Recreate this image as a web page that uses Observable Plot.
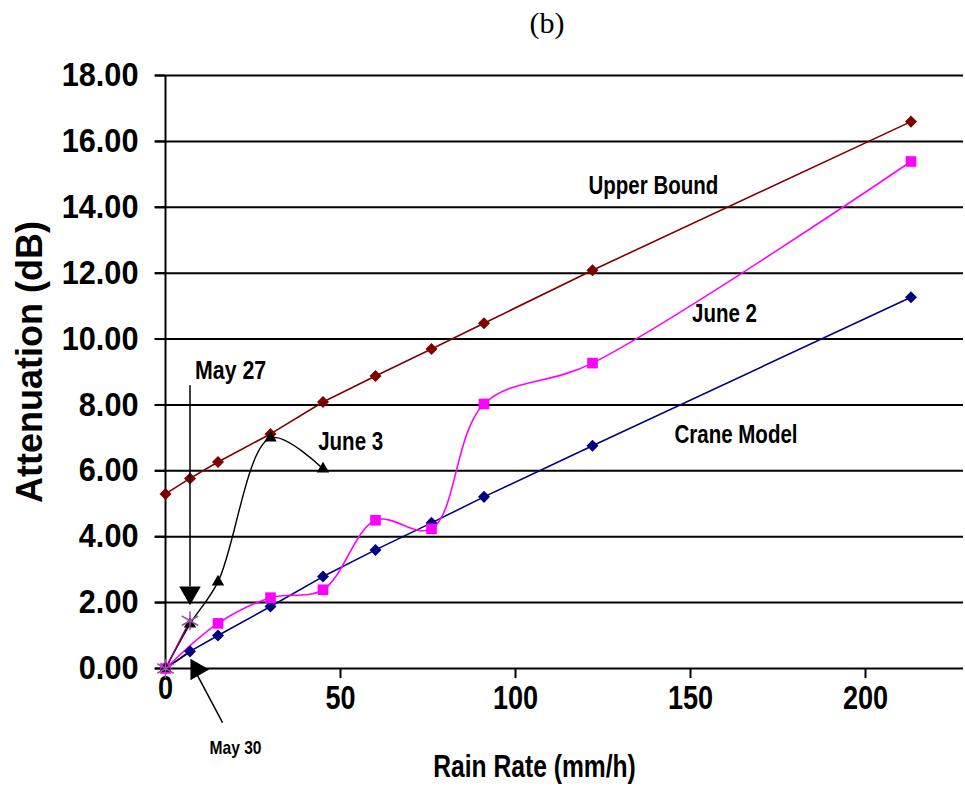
<!DOCTYPE html>
<html>
<head>
<meta charset="utf-8">
<script src="https://cdn.jsdelivr.net/npm/d3@7"></script>
<script src="https://cdn.jsdelivr.net/npm/@observablehq/plot@0.6"></script>
<style>
  html, body { margin: 0; padding: 0; background: #fff; }
  #wrap { position: relative; width: 965px; height: 802px; }
  #title { position: absolute; left: 0; top: 6px; width: 1094px; text-align: center;
    font-family: "Liberation Serif", "DejaVu Serif", serif; font-size: 30px; color: #000; }
  #chart { position: absolute; left: 0; top: 50px; }
  g[aria-label="y-axis tick label"] text { font-family: "Liberation Sans", Arial, sans-serif; font-weight: bold; font-size: 33px; }
  g[aria-label="x-axis tick label"] text { font-family: "Liberation Sans", Arial, sans-serif; font-weight: bold; font-size: 33px; }
</style>
</head>
<body>
<div id="wrap">
  <div id="title">(b)</div>
  <div id="chart"></div>
</div>
<script>
// ---- data ----
const upperX = [0, 7, 15, 30, 45, 60, 76, 91, 122, 213];
const upperY = [5.3, 5.77, 6.27, 7.12, 8.09, 8.88, 9.7, 10.48, 12.09, 16.6];
const craneX = [0, 7, 15, 30, 45, 60, 76, 91, 122, 213];
const craneY = [0, 0.52, 1.0, 1.88, 2.79, 3.6, 4.42, 5.21, 6.76, 11.27];
const june2X = [0, 15, 30, 45, 60, 76, 91, 122, 213];
const june2Y = [0, 1.37, 2.15, 2.39, 4.5, 4.24, 8.03, 9.27, 15.39];
const june3X = [0, 7, 15, 30, 45];
const june3Y = [0, 1.35, 2.63, 7.0, 6.06];
const may27X = [0, 7];
const may27Y = [0, 1.45];
const may30X = [0, 7];
const may30Y = [0, 0.5];

const yTicks = [0, 2, 4, 6, 8, 10, 12, 14, 16, 18];
const xTicks = [0, 50, 100, 150, 200];

// annotation labels
const labelText = ["Upper Bound", "June 2", "Crane Model", "June 3", "May 27", "May 30"];
const labelX = [139.4, 159.7, 163, 52.9, 18.6, 20];
const labelY = [14.64, 10.76, 7.09, 6.88, 9.03, -2.42];
const labelSize = [25, 25, 25, 25, 26, 19];

// annotation arrows (from -> to, head position)
const arrowX1 = [7, 16.3];
const arrowY1 = [8.6, -1.64];
const arrowX2 = [7, 8.6];
const arrowY2 = [2.5, -0.1];
const headX = [7, 8.9];
const headY = [2.3, -0.03];
const headRot = [180, 90];

const xTitle = "Rain Rate (mm/h)";
const yTitle = "Attenuation (dB)";

const zip = (xs, ys) => xs.map((x, i) => ({x, y: ys[i]}));
const upper = zip(upperX, upperY);
const crane = zip(craneX, craneY);
const june2 = zip(june2X, june2Y);
const june3 = zip(june3X, june3Y);
const may27 = zip(may27X, may27Y);
const may30 = zip(may30X, may30Y);
const labels = labelText.map((t, i) => ({t, x: labelX[i], y: labelY[i], s: labelSize[i]}));
const arrows = arrowX1.map((x1, i) => ({x1, y1: arrowY1[i], x2: arrowX2[i], y2: arrowY2[i]}));
const heads = headX.map((x, i) => ({x, y: headY[i], r: headRot[i]}));

const narrow = "'Liberation Sans', 'Arial Narrow', sans-serif";
const narrow2 = "'Liberation Sans', 'Arial Narrow Title', sans-serif";
const plain = "'Liberation Sans', Arial, sans-serif";

const chart = Plot.plot({
  width: 965,
  height: 752,
  marginTop: 25,
  marginBottom: 134,
  marginLeft: 165,
  marginRight: 2,
  x: {domain: [0, 228], ticks: xTicks},
  y: {domain: [0, 18], ticks: yTicks},
  style: {background: "white", color: "black", overflow: "visible"},
  marks: [
    Plot.ruleY(yTicks.filter(d => d > 0), {x1: -3, x2: 228, stroke: "#000", strokeWidth: 2}),
    Plot.axisY({ticks: yTicks, tickFormat: d3.format(".2f"), tickSize: 10, tickPadding: 17, strokeWidth: 2, label: null}),
    Plot.axisX({ticks: xTicks.filter(d => d > 0), tickSize: 10, tickPadding: 7, strokeWidth: 2, label: null}),
    Plot.text([xTicks[0]], {x: d => d, frameAnchor: "bottom", dy: 30, text: d => String(d),
      fontFamily: narrow, fontWeight: "bold", fontSize: 33}),
    Plot.ruleY([0], {x1: -3, x2: 228, stroke: "#000", strokeWidth: 2}),
    Plot.ruleX([0], {y1: 0, y2: 18, stroke: "#000", strokeWidth: 2}),
    // series lines
    Plot.line(upper, {x: "x", y: "y", stroke: "#800000", strokeWidth: 1.6}),
    Plot.line(crane, {x: "x", y: "y", stroke: "#000080", strokeWidth: 1.6}),
    Plot.line(june2, {x: "x", y: "y", stroke: "#ff00ff", strokeWidth: 1.6, curve: "catmull-rom"}),
    Plot.line(june3, {x: "x", y: "y", stroke: "#000", strokeWidth: 1.4, curve: "catmull-rom"}),
    Plot.line(may27, {x: "x", y: "y", stroke: "#800080", strokeWidth: 1.6}),
    Plot.line(may30, {x: "x", y: "y", stroke: "#000", strokeWidth: 1.4}),
    // markers
    Plot.dot(upper, {x: "x", y: "y", symbol: "square", rotate: 45, r: 4.8, fill: "#800000"}),
    Plot.dot(crane, {x: "x", y: "y", symbol: "square", rotate: 45, r: 4.8, fill: "#000080"}),
    Plot.dot(june2, {x: "x", y: "y", symbol: "square", r: 6, fill: "#ff00ff"}),
    Plot.dot(june3, {x: "x", y: "y", symbol: "triangle", r: 4.6, fill: "#000"}),
    Plot.dot(may27, {x: "x", y: "y", symbol: "asterisk", r: 9, stroke: "#a050b0", strokeWidth: 1.5}),
    // annotation arrows
    Plot.link(arrows, {x1: "x1", y1: "y1", x2: "x2", y2: "y2", stroke: "#000", strokeWidth: 1.5, clip: false}),
    Plot.dot(heads, {x: "x", y: "y", symbol: "triangle", r: 8, fill: "#000", rotate: "r"}),
    // annotation labels
    Plot.text(labels, {x: "x", y: "y", text: "t", fontSize: "s", fontFamily: narrow, fontWeight: "bold", fill: "#000"}),
    // axis titles
    Plot.text([yTitle], {frameAnchor: "left", dx: -135, dy: -10, rotate: -90, textAnchor: "middle", text: d => d,
      fontFamily: plain, fontWeight: "bold", fontSize: 36}),
    Plot.text([xTitle], {frameAnchor: "bottom", dx: -30, dy: 108, text: d => d,
      fontFamily: narrow2, fontWeight: "bold", fontSize: 32})
  ]
});
document.getElementById("chart").appendChild(chart);

// emulate condensed bold faces by horizontally compressing the glyphs
function squeezeTexts(texts, k) {
  for (const t of texts) {
    const w = t.getComputedTextLength();
    t.setAttribute("textLength", (w * k).toFixed(1));
    t.setAttribute("lengthAdjust", "spacingAndGlyphs");
  }
}
const textGroups = Array.from(chart.querySelectorAll('g[aria-label="text"]'));
const byFont = f => textGroups.filter(g => g.getAttribute("font-family") === f)
  .flatMap(g => Array.from(g.querySelectorAll("text")));
squeezeTexts(chart.querySelectorAll('g[aria-label="x-axis tick label"] text'), 0.82);
squeezeTexts(chart.querySelectorAll('g[aria-label="y-axis tick label"] text'), 0.93);
squeezeTexts(byFont(narrow), 0.82);
squeezeTexts(byFont(narrow2), 0.77);
</script>
</body>
</html>
